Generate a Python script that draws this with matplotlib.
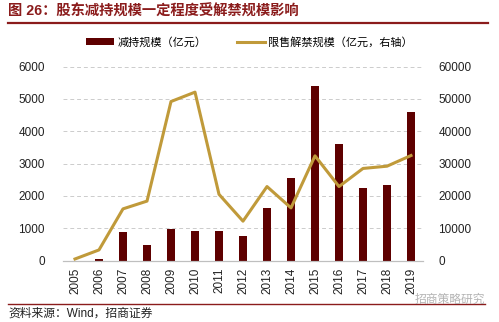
import matplotlib.pyplot as plt
import numpy as np

plt.rcParams['font.family'] = ['Liberation Sans', 'Noto Sans CJK SC']

years = ['2005', '2006', '2007', '2008', '2009', '2010', '2011', '2012',
         '2013', '2014', '2015', '2016', '2017', '2018', '2019']
reduce_amt = [0, 50, 900, 480, 980, 925, 915, 760, 1620, 2550, 5400, 3620, 2250, 2330, 4590]
unlock_amt = [500, 3300, 16000, 18400, 49200, 52100, 20500, 12200, 22900, 16300,
              32400, 22900, 28500, 29200, 32500]

bar_color = '#5e0000'
line_color = '#c09a3a'
title_color = '#8b1c1c'

fig = plt.figure(figsize=(4.99, 3.22), dpi=100)
ax = fig.add_axes([63 / 499, 1 - 260.6 / 322, 360 / 499, 194 / 322])
ax2 = ax.twinx()

x = np.arange(len(years))
ax.bar(x, reduce_amt, width=0.33, color=bar_color, label='减持规模（亿元）', zorder=2)
ax2.plot(x, unlock_amt, color=line_color, lw=2.2, label='限售解禁规模（亿元，右轴）', zorder=3)

ax.set_xlim(-0.5, 14.5)
ax.set_ylim(0, 6000)
ax2.set_ylim(0, 60000)
ax.set_yticks(range(0, 6001, 1000))
ax2.set_yticks(range(0, 60001, 10000))
ax.set_xticks(x)
ax.set_xticklabels(years, rotation=90)
ax.grid(axis='y', color='#cccccc', ls=(0, (4, 3)), lw=0.7, zorder=0)
ax.set_axisbelow(True)

for a in (ax, ax2):
    for s in ('top', 'left', 'right'):
        a.spines[s].set_visible(False)
    a.spines['bottom'].set_color('#bfbfbf')
    a.tick_params(length=0, labelsize=8.5, colors='#222222')
ax.tick_params(axis='y', pad=13)
ax2.tick_params(axis='y', pad=11)
ax.tick_params(axis='x', pad=5)

# legend
h1, l1 = ax.get_legend_handles_labels()
h2, l2 = ax2.get_legend_handles_labels()
fig.legend(h1 + h2, l1 + l2, loc='center', bbox_to_anchor=(0.5, 1 - 42 / 322), ncol=2,
           frameon=False, fontsize=8, handlelength=2.5, handleheight=0.6,
           columnspacing=2.8, handletextpad=0.3)

# title and rules
fig.text(8 / 499, 1 - 12 / 322, '图 26：股东减持规模一定程度受解禁规模影响', color=title_color,
         fontsize=10.3, fontweight='bold', va='center', ha='left')
fig.add_artist(plt.Line2D([8 / 499, 488 / 499], [1 - 22.5 / 322] * 2, color=title_color, lw=1.6))
fig.add_artist(plt.Line2D([8 / 499, 485 / 499], [1 - 304 / 322] * 2, color=title_color, lw=1.0))
fig.text(8 / 499, 1 - 314 / 322, '资料来源：Wind，招商证券', fontsize=8.5, va='center', ha='left',
         color='#222222')
fig.text(485 / 499, 1 - 300 / 322, '招商策略研究', fontsize=8.5, va='center', ha='right',
         color='#b5b5b5')

fig.savefig('out.png', dpi=100)
